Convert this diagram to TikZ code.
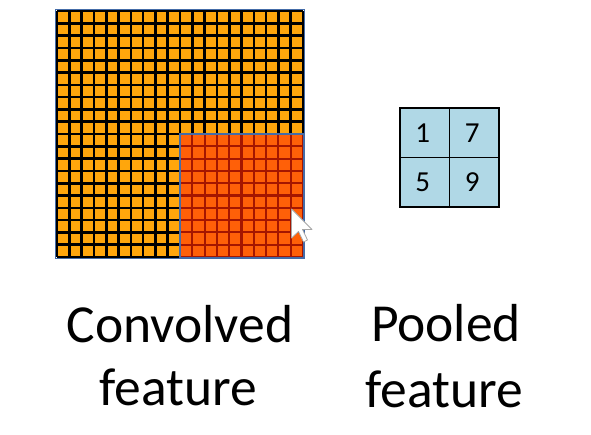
\documentclass[tikz,border=0pt]{standalone}
\usepackage{fontspec}
\setmainfont{Carlito}
\definecolor{cellorange}{RGB}{255,166,12}
\definecolor{cellred}{RGB}{255,96,8}
\definecolor{darkredline}{RGB}{165,22,0}
\definecolor{frameblue}{RGB}{68,108,168}
\definecolor{poolblue}{RGB}{176,216,230}
\tikzset{
  blackgrid/.style={draw=black, line width=2.6pt},
  redgrid/.style={draw=darkredline, line width=2.1pt},
  bigtext/.style={font=\fontsize{53.5}{63}\selectfont, anchor=base, inner sep=0pt},
  digit/.style={font=\fontsize{29}{32}\selectfont, inner sep=0pt},
  poolcell/.style={draw=black, fill=poolblue, line width=1.3pt, minimum width=49.5pt, minimum height=49.5pt, inner sep=0pt},
}
\begin{document}
\begin{tikzpicture}[x=1pt, y=-1pt]
\useasboundingbox (0,0) rectangle (591,434);
\fill[white] (0,0) rectangle (591,434);
% convolved feature: 20x20 grid
\fill[cellorange] (57,11) rectangle (303,257);
\foreach \i in {0,...,20} {
  \draw[blackgrid] ({57+12.3*\i},11) -- ({57+12.3*\i},257);
  \draw[blackgrid] (57,{11+12.3*\i}) -- (303,{11+12.3*\i});
}
% highlighted 10x10 region
\fill[cellred] (180,134) rectangle (303,257);
\foreach \i in {0,...,10} {
  \draw[redgrid] ({180+12.3*\i},134) -- ({180+12.3*\i},257);
  \draw[redgrid] (180,{134+12.3*\i}) -- (303,{134+12.3*\i});
}
\draw[frameblue, line width=1.4pt] (55.6,9.6) rectangle (304.4,258.4);
\draw[frameblue, line width=2.2pt] (180,134) rectangle (304,258);
% mouse cursor
\draw[fill=white, draw=gray!70, line width=0.8pt, line join=round]
  (291.5,209) -- (291.5,238) -- (298.5,231.5) -- (303.5,242) -- (307.5,240) -- (302.5,229.5) -- (312,229.5) -- cycle;
% pooled feature 2x2
\node[poolcell] (p11) at (424.75,132.75) {};
\node[poolcell] (p12) at (474.25,132.75) {};
\node[poolcell] (p21) at (424.75,182.25) {};
\node[poolcell] (p22) at (474.25,182.25) {};
\node[digit] (d11) at ([xshift=-2pt]p11.center) {1};
\node[digit] (d12) at ([xshift=-2pt]p12.center) {7};
\node[digit] (d21) at ([xshift=-2pt]p21.center) {5};
\node[digit] (d22) at ([xshift=-2pt]p22.center) {9};
% labels
\node[bigtext] (c1) at (180,342) {Convolved};
\node[bigtext] (c2) at (178,405) {feature};
\node[bigtext] (q1) at (446,341) {Pooled};
\node[bigtext] (q2) at (444.5,407) {feature};
\end{tikzpicture}
\end{document}
